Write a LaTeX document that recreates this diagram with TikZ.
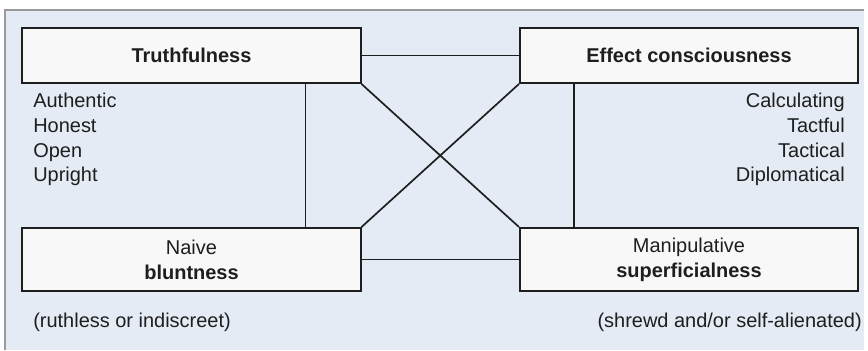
\documentclass[tikz,border=0pt]{standalone}
\usepackage{fontspec}
\setmainfont{Liberation Sans}
\usepackage{xcolor}
\definecolor{panelblue}{HTML}{E4EBF4}
\definecolor{panelrim}{HTML}{9A9A9A}
\definecolor{boxfill}{HTML}{F8F8F8}
\definecolor{ink}{HTML}{1E1E1E}
\tikzset{
	box/.style={draw=ink, fill=boxfill, line width=1.4pt, minimum width=8.45cm,
		align=center, text=ink, inner sep=0pt},
	trait/.style={inner sep=0pt, text=ink},
	link/.style={draw=ink, line width=1.2pt}
}

\begin{document}
\begin{tikzpicture}
    [x=0.025cm, y=-0.025cm, every node/.style={font=\fontsize{14.2}{17.7}\selectfont}]
    \useasboundingbox (0,0) rectangle (868,350);
    % panel
    \fill[panelblue] (5,10) rectangle (864,350);
    \draw[panelrim, line width=1pt] (5,350) -- (5,10) -- (864,10);
    % the four quadrants
    \node[box, minimum height=1.375cm] (truth) at (191.5,55.5){\textbf{Truthfulness}};
    \node[box, minimum height=1.375cm] (effect) at (689,55.5){\textbf{Effect consciousness}};
    \node[box, minimum height=1.575cm] (naive) at (191.5,259.5){Naive\\\textbf{bluntness}};
    \node[box, minimum height=1.575cm] (manip) at (689,259.5){Manipulative\\\textbf{superficialness}};
    % traits and notes
    \node[trait, anchor=north west, align=left] (truthtraits) at (33,92.5){Authentic\\Honest\\Open\\Upright};
    \node[trait, anchor=north east, align=right] (effecttraits) at (845,92.5){Calculating\\Tactful\\Tactical\\Diplomatical};
    \node[trait, anchor=base west] (naivenote) at (33,327){(ruthless or indiscreet)};
    \node[trait, anchor=base east] (manipnote) at (862,327){(shrewd and/or self-alienated)};
    % connectors
    \draw[link] (truth) -- (effect);
    \draw[link] (naive) -- (manip);
    \draw[link] ([xshift=2.85cm]truth.south) -- ([xshift=2.85cm]naive.north);
    \draw[link] ([xshift=-2.875cm]effect.south) -- ([xshift=-2.875cm]manip.north);
    \draw[link] (truth.south east) -- (manip.north west);
    \draw[link] (effect.south west) -- (naive.north east);
\end{tikzpicture}
\end{document}
